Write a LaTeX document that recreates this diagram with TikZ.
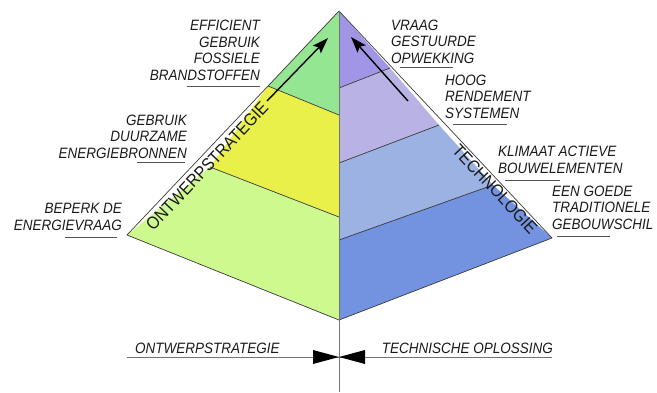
\documentclass[tikz,border=0pt]{standalone}
\usepackage{fontspec}
\setmainfont{Liberation Sans}
\newfontfamily\lblfont[FakeStretch=0.9]{Liberation Sans}
\usetikzlibrary{arrows.meta}
\definecolor{cGreen}{HTML}{94E693}
\definecolor{cYellow}{HTML}{E9F04A}
\definecolor{cLight}{HTML}{CDF98E}
\definecolor{cPurple}{HTML}{A196E6}
\definecolor{cLav}{HTML}{B9B2E4}
\definecolor{cGrayBlue}{HTML}{9CB2E2}
\definecolor{cBlue}{HTML}{7393E0}
\definecolor{cEdge}{HTML}{3A3A3A}
\definecolor{cUnder}{HTML}{555555}
\tikzset{
  lbl/.style={font=\lblfont\fontsize{15}{16.5}\selectfont\itshape, inner sep=0pt, text=black!90},
  lblL/.style={lbl, align=right, anchor=base east},
  lblR/.style={lbl, align=left, anchor=base west},
  side/.style={font=\lblfont\fontsize{17.5}{18}\selectfont, inner sep=0pt, text=black!90},
  band/.style={draw=cEdge, line width=0.7pt, line join=round},
  uline/.style={draw=cUnder, line width=0.9pt},
  bigarrow/.style={draw=black, line width=1.4pt, -{Stealth[length=16pt,width=11pt,inset=3pt]}},
}
\begin{document}
\begin{tikzpicture}[x=1pt,y=-1pt]
\useasboundingbox (0,0) rectangle (657,392);
% key points
\coordinate (apex) at (339,11);
\coordinate (L) at (127,235);
\coordinate (R) at (552,238);
\coordinate (B) at (339,320);
\coordinate (Bend) at (339,392);
% left face bands
\coordinate (l1) at (268,86);  \coordinate (c1) at (339,115);
\coordinate (l2) at (210,167); \coordinate (c2) at (339,217);
\fill[cGreen] (apex) -- (l1) -- (c1) -- cycle;
\fill[cYellow] (l1) -- (l2) -- (c2) -- (c1) -- cycle;
\fill[cLight] (l2) -- (L) -- (B) -- (c2) -- cycle;
% right face bands
\coordinate (r1) at (390,68);  \coordinate (d1) at (339,88);
\coordinate (r2) at (439,125); \coordinate (d2) at (339,163);
\coordinate (r3) at (493,185); \coordinate (d3) at (339,240);
\fill[cPurple] (apex) -- (r1) -- (d1) -- cycle;
\fill[cLav] (r1) -- (r2) -- (d2) -- (d1) -- cycle;
\fill[cGrayBlue] (r2) -- (r3) -- (d3) -- (d2) -- cycle;
\fill[cBlue] (r3) -- (R) -- (B) -- (d3) -- cycle;
% band boundaries
\draw[band] (l1) -- (c1) (l2) -- (c2) (r1) -- (d1) (r2) -- (d2) (r3) -- (d3);
% outline
\draw[band] (apex) -- (L) -- (B) -- (R) -- cycle;
% centre line
\draw[draw=black!55, line width=0.8pt] (apex) -- (Bend);
% arrows
\coordinate (a1s) at (267,101); \coordinate (a1e) at (328,38);
\coordinate (a2s) at (408,101); \coordinate (a2e) at (351,37);
\draw[bigarrow] (a1s) -- (a1e);
\draw[bigarrow] (a2s) -- (a2e);
% side labels
\node[side, rotate=46.6] (ontw) at (207,166) {ONTWERPSTRATEGIE};
\node[side, rotate=-46.8] (tech) at (495,189) {TECHNOLOGIE};
% left labels (anchor = baseline of last line)
\node[lblL] (t1) at (260,80) {EFFICIENT\\GEBRUIK\\FOSSIELE\\BRANDSTOFFEN};
\draw[uline] (187,86) -- (260,86);
\node[lblL] (t2) at (187,158) {GEBRUIK\\DUURZAME\\ENERGIEBRONNEN};
\draw[uline] (137,162) -- (185,162);
\node[lblL] (t3) at (122,230) {BEPERK DE\\ENERGIEVRAAG};
\draw[uline] (65,237) -- (117,237);
% right labels
\node[lblR] (t4) at (391,63) {VRAAG\\GESTUURDE\\OPWEKKING};
\draw[uline] (400,67) -- (453,67);
\node[lblR] (t5) at (445,118) {HOOG\\RENDEMENT\\SYSTEMEN};
\draw[uline] (453,124) -- (507,124);
\node[lblR] (t6) at (498,173) {KLIMAAT ACTIEVE\\BOUWELEMENTEN};
\draw[uline] (505,180) -- (560,180);
\node[lblR] (t7) at (552,229) {EEN GOEDE\\TRADITIONELE\\GEBOUWSCHIL};
\draw[uline] (557,236) -- (610,236);
% bottom dimension line
\coordinate (hl) at (127,357);
\coordinate (hr) at (552,357);
\coordinate (hc) at (339,357);
\draw[draw=black!55, line width=0.8pt] (hl) -- (hr);
\fill[black] (hc) -- (313,350) -- (313,364) -- cycle;
\fill[black] (hc) -- (365,350) -- (365,364) -- cycle;
\node[lbl, anchor=base west] (b1) at (135,353) {ONTWERPSTRATEGIE};
\node[lbl, anchor=base east] (b2) at (553,353) {TECHNISCHE OPLOSSING};
\end{tikzpicture}
\end{document}
